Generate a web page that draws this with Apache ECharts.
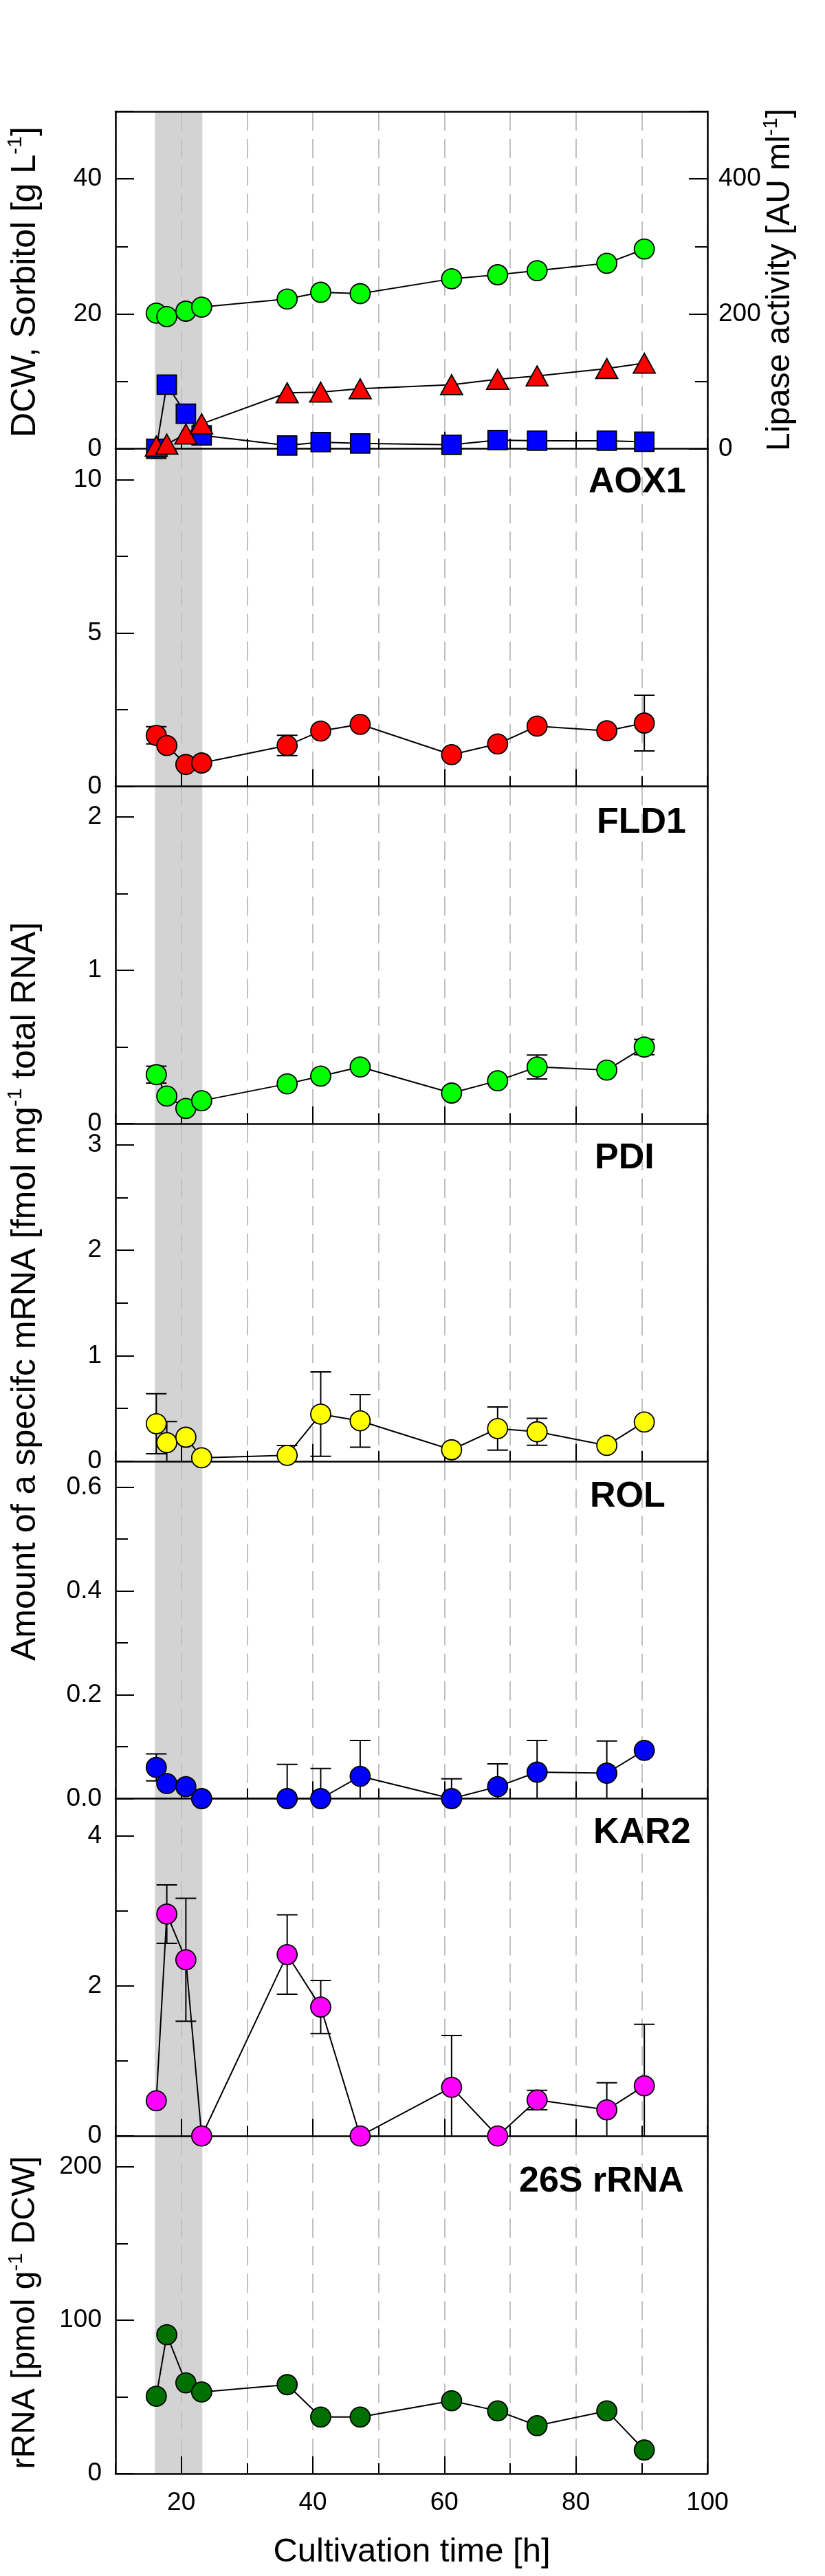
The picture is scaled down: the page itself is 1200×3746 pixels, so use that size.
<!DOCTYPE html>
<html>
<head>
<meta charset="utf-8">
<script src="https://cdn.jsdelivr.net/npm/echarts@6.0.0/dist/echarts.min.js"></script>
<style>
  html, body { margin: 0; padding: 0; background: #fff; }
  #chart { width: 1200px; height: 3746px; }
</style>
</head>
<body>
<div id="chart"></div>
<script>
// sampling times [h]
var times = [16.2, 17.8, 20.7, 23.1, 36.1, 41.2, 47.2, 61.1, 68.1, 74.1, 84.7, 90.4];
// shaded phase [h]
var band = [16, 23.2];

// top panel
var dcw = [20.1, 19.6, 20.4, 21.0, 22.2, 23.2, 23.0, 25.2, 25.8, 26.4, 27.5, 29.6];
var sorbitol = [0, 9.5, 5.2, 2.0, 0.5, 1.0, 0.8, 0.6, 1.3, 1.2, 1.2, 1.05];
var lipase = [4, 7, 22, 37, 83, 84, 89, 95, 103, 108, 119, 127];

// transcript levels and their standard deviations
var aox1 = [1.66, 1.33, 0.71, 0.76, 1.33, 1.80, 2.02, 1.03, 1.38, 1.96, 1.81, 2.06];
var aox1Err = [0.28, 0, 0, 0, 0.33, 0, 0, 0, 0, 0, 0, 0.91];
var fld1 = [0.32, 0.18, 0.10, 0.15, 0.26, 0.31, 0.37, 0.20, 0.28, 0.37, 0.35, 0.50];
var fld1Err = [0.055, 0, 0, 0, 0, 0, 0, 0, 0, 0.078, 0, 0.05];
var pdi = [0.355, 0.176, 0.227, 0.032, 0.055, 0.446, 0.382, 0.108, 0.309, 0.279, 0.149, 0.371];
var pdiErr = [0.285, 0.2, 0, 0, 0.094, 0.40, 0.25, 0, 0.205, 0.128, 0, 0];
var rol = [0.060, 0.029, 0.023, 0, 0, 0, 0.043, 0, 0.023, 0.051, 0.049, 0.093];
var rolErr = [0.026, 0, 0, 0, 0.066, 0.058, 0.069, 0.038, 0.044, 0.061, 0.062, 0];
var kar2 = [0.47, 2.96, 2.35, 0, 2.42, 1.72, 0, 0.65, 0, 0.48, 0.35, 0.67];
var kar2Err = [0, 0.39, 0.82, 0, 0.53, 0.355, 0, 0.69, 0, 0.13, 0.36, 0.82];
var rrna = [50.3, 90.5, 59.1, 53.1, 57.9, 36.8, 36.8, 47.4, 40.8, 31.2, 40.8, 15.3];
var rrnaErr = [0, 0, 0, 0, 0, 0, 0, 0, 0, 0, 0, 0];

// axes
var yMax = [50, 11, 2.2, 3.2, 0.65, 4.5, 220];
var yMajor = [20, 5, 1, 1, 0.2, 2, 100];
var yMinor = [10, 2.5, 0.5, 0.5, 0.1, 1, 50];
var yDigits = [0, 0, 0, 0, 1, 0, 0];
var lipaseMax = 500, lipaseMajor = 200, lipaseMinor = 100;
var majorX = [20, 40, 60, 80];

var geneNames = ['AOX1', 'FLD1', 'PDI', 'ROL', 'KAR2', '26S rRNA'];
var geneData = [aox1, fld1, pdi, rol, kar2, rrna];
var geneErr = [aox1Err, fld1Err, pdiErr, rolErr, kar2Err, rrnaErr];
var geneColors = ['#ff0000', '#00ff00', '#ffff00', '#0000ff', '#ff00ff', '#007000'];

// layout
var TOP0 = 162, PANEL_H = 490.7, LEFT = 168, RIGHT = 171;
var FONT = "'Liberation Sans', Arial, Helvetica, sans-serif";
var geneLabelPos = [[856, 49], [868, 53], [865, 51], [858, 52], [863, 50], [755, 66]];

var chart = echarts.init(document.getElementById('chart'));

function isMult(v, step) {
  var r = v / step;
  return Math.abs(r - Math.round(r)) < 1e-6;
}

function pairs(vals) {
  return times.map(function (t, k) { return [t, vals[k]]; });
}

function renderBand(params, api) {
  var cs = params.coordSys;
  var x0 = api.coord([api.value(0), 0])[0];
  var x1 = api.coord([api.value(1), 0])[0];
  return {
    type: 'rect',
    shape: { x: x0, y: cs.y, width: x1 - x0, height: cs.height },
    style: { fill: '#d3d3d3' }
  };
}

function renderErr(params, api) {
  var e = api.value(2);
  if (!e) return;
  var x = api.value(0), y = api.value(1);
  var hi = api.coord([x, y + e]);
  var lo = api.coord([x, y - e]);
  var hw = 15;
  return {
    type: 'group',
    children: [
      { type: 'line', shape: { x1: hi[0], y1: hi[1], x2: lo[0], y2: lo[1] }, style: { stroke: '#000', lineWidth: 2 } },
      { type: 'line', shape: { x1: hi[0] - hw, y1: hi[1], x2: hi[0] + hw, y2: hi[1] }, style: { stroke: '#000', lineWidth: 2 } },
      { type: 'line', shape: { x1: lo[0] - hw, y1: lo[1], x2: lo[0] + hw, y2: lo[1] }, style: { stroke: '#000', lineWidth: 2 } }
    ]
  };
}

function lineSeries(name, vals, xi, yi, symbol, size, color) {
  return {
    name: name, type: 'line', xAxisIndex: xi, yAxisIndex: yi,
    data: pairs(vals), symbol: symbol, symbolSize: size, showAllSymbol: true,
    clip: false, z: 3, silent: true,
    itemStyle: { color: color, borderColor: '#000', borderWidth: 1.8 },
    lineStyle: { color: '#000', width: 2 },
    emphasis: { disabled: true }
  };
}

function yLabel(step, dec) {
  return function (v) { return isMult(v, step) ? v.toFixed(dec) : ''; };
}

function tickStyle() { return { color: '#000', width: 2 }; }
function axisStyle() { return { color: '#000', width: 2.5 }; }

var grids = [], xAxes = [], yAxes = [], series = [], graphics = [];

for (var i = 0; i < 7; i++) {
  var panelTop = TOP0 + i * PANEL_H;
  grids.push({ left: LEFT, right: RIGHT, top: panelTop, height: PANEL_H, outerBoundsMode: 'none' });

  // bottom axis: short ticks, dashed grid, labels
  var xi = xAxes.length;
  xAxes.push({
    gridIndex: i, type: 'value', position: 'bottom', min: 10, max: 100, interval: 10, z: 1,
    axisLine: { show: true, onZero: false, lineStyle: axisStyle() },
    axisTick: { show: true, inside: true, length: 15, lineStyle: tickStyle() },
    axisLabel: {
      show: i === 6, fontSize: 37, color: '#000', fontFamily: FONT, margin: 24,
      formatter: function (v) { return isMult(v, 20) ? String(v) : ''; }
    },
    splitLine: { show: true, lineStyle: { color: '#c0c0c0', width: 2, type: [28, 12] } }
  });
  // long ticks at 20, 40, 60, 80
  xAxes.push({
    gridIndex: i, type: 'value', position: 'bottom', min: 10, max: 100, interval: 10, z: 1,
    axisLine: { show: false, onZero: false },
    axisTick: { show: true, inside: true, length: 25, customValues: majorX, lineStyle: tickStyle() },
    axisLabel: { show: false },
    splitLine: { show: false }
  });
  if (i === 0) {
    xAxes.push({
      gridIndex: 0, type: 'value', position: 'top', min: 10, max: 100, z: 4,
      axisLine: { show: true, onZero: false, lineStyle: axisStyle() },
      axisTick: { show: false }, axisLabel: { show: false }, splitLine: { show: false }
    });
  }

  var yi = yAxes.length;
  yAxes.push({
    gridIndex: i, type: 'value', position: 'left', min: 0, max: yMax[i], interval: yMajor[i], z: 4,
    axisLine: { show: true, onZero: false, lineStyle: axisStyle() },
    axisTick: { show: true, inside: true, length: 27, lineStyle: tickStyle() },
    axisLabel: { fontSize: 37, color: '#000', fontFamily: FONT, margin: 20, formatter: yLabel(yMajor[i], yDigits[i]) },
    splitLine: { show: false }
  });
  yAxes.push({
    gridIndex: i, type: 'value', position: 'left', min: 0, max: yMax[i], interval: yMinor[i], z: 4,
    axisLine: { show: false, onZero: false },
    axisTick: { show: true, inside: true, length: 18, lineStyle: tickStyle() },
    axisLabel: { show: false }, splitLine: { show: false }
  });

  var ri = yAxes.length;
  if (i === 0) {
    yAxes.push({
      gridIndex: 0, type: 'value', position: 'right', min: 0, max: lipaseMax, interval: lipaseMajor, z: 4,
      axisLine: { show: true, onZero: false, lineStyle: axisStyle() },
      axisTick: { show: true, inside: true, length: 27, lineStyle: tickStyle() },
      axisLabel: { fontSize: 37, color: '#000', fontFamily: FONT, margin: 16, formatter: yLabel(lipaseMajor, 0) },
      splitLine: { show: false }
    });
    yAxes.push({
      gridIndex: 0, type: 'value', position: 'right', min: 0, max: lipaseMax, interval: lipaseMinor, z: 4,
      axisLine: { show: false, onZero: false },
      axisTick: { show: true, inside: true, length: 18, lineStyle: tickStyle() },
      axisLabel: { show: false }, splitLine: { show: false }
    });
  } else {
    yAxes.push({
      gridIndex: i, type: 'value', position: 'right', min: 0, max: yMax[i], z: 4,
      axisLine: { show: true, onZero: false, lineStyle: axisStyle() },
      axisTick: { show: false }, axisLabel: { show: false }, splitLine: { show: false }
    });
  }

  // shaded phase
  series.push({
    type: 'custom', xAxisIndex: xi, yAxisIndex: yi, z: 0, silent: true,
    renderItem: renderBand, data: [band.slice()]
  });

  if (i === 0) {
    series.push(lineSeries('DCW', dcw, xi, yi, 'circle', 29, '#00ff00'));
    series.push(lineSeries('Sorbitol', sorbitol, xi, yi, 'rect', 28, '#0000ff'));
    series.push(lineSeries('Lipase', lipase, xi, ri, 'triangle', [32, 29], '#ff0000'));
  } else {
    var g = i - 1;
    series.push({
      type: 'custom', xAxisIndex: xi, yAxisIndex: yi, z: 2, clip: true, silent: true,
      renderItem: renderErr,
      data: times.map(function (t, k) { return [t, geneData[g][k], geneErr[g][k]]; })
    });
    series.push(lineSeries(geneNames[g], geneData[g], xi, yi, 'circle', 29, geneColors[g]));
    graphics.push({
      type: 'text', x: geneLabelPos[g][0], y: panelTop + geneLabelPos[g][1], z: 10,
      style: {
        text: geneNames[g], fill: '#000', font: 'bold 52px ' + FONT,
        align: 'left', verticalAlign: 'middle'
      }
    });
  }
}

function vTitle(x, y, main, sup, tail, size) {
  return {
    type: 'text', x: x, y: y, rotation: Math.PI / 2, z: 10,
    style: {
      text: '{a|' + main + '}{s|' + sup + '}{a|' + tail + '}',
      align: 'center', verticalAlign: 'middle',
      rich: {
        a: { fontSize: size, fontFamily: FONT, fill: '#000', lineHeight: size + 8 },
        s: { fontSize: Math.round(size * 0.6), fontFamily: FONT, fill: '#000', lineHeight: Math.round(size * 0.6), verticalAlign: 'top' }
      }
    }
  };
}

graphics.push(vTitle(37, 410, 'DCW, Sorbitol [g L', '-1', ']', 50));
graphics.push(vTitle(1135, 407, 'Lipase activity [AU ml', '-1', ']', 48));
graphics.push(vTitle(37, 1878, 'Amount of a specifc mRNA [fmol mg', '-1', ' total RNA]', 50));
graphics.push(vTitle(37, 3363, 'rRNA [pmol g', '-1', ' DCW]', 48));
graphics.push({
  type: 'text', x: 599, y: 3711, z: 10,
  style: {
    text: 'Cultivation time [h]', fill: '#000', font: '49px ' + FONT,
    align: 'center', verticalAlign: 'middle'
  }
});

chart.setOption({
  backgroundColor: '#fff',
  animation: false,
  grid: grids,
  xAxis: xAxes,
  yAxis: yAxes,
  series: series,
  graphic: graphics
});
</script>
</body>
</html>
